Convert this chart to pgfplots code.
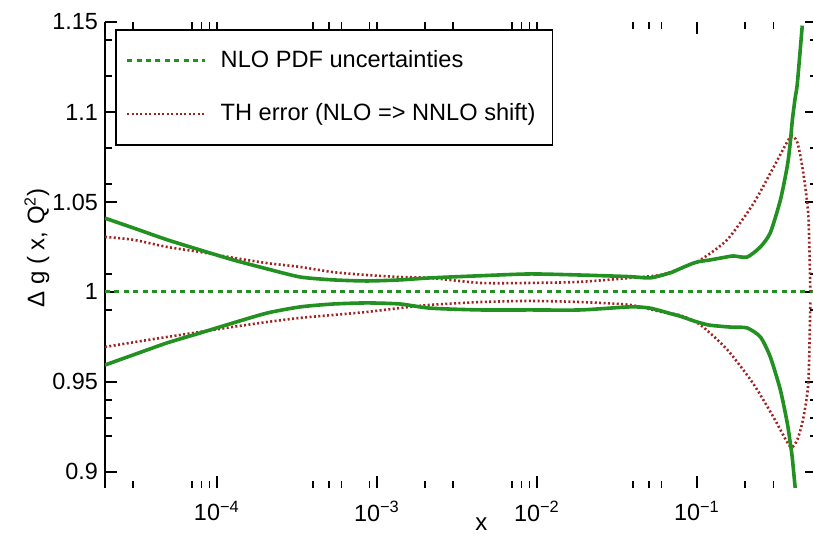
\documentclass[border=0pt]{standalone}
\usepackage{fontspec}
\setmainfont{Liberation Sans}
\usepackage{pgfplots}
\pgfplotsset{compat=1.18}
\definecolor{pdfgreen}{RGB}{34,145,34}
\definecolor{thred}{RGB}{160,35,35}

\pgfplotstableread{
x        up      lo
2.0e-5   1.0410  0.9594
3.0e-5   1.0356  0.9650
4.89e-5  1.0290  0.9717
7.87e-5  1.0233  0.9772
1.265e-4 1.0178  0.9828
2.065e-4 1.0128  0.9883
3.32e-4  1.0083  0.9917
5.33e-4  1.0067  0.9933
8.69e-4  1.0061  0.9939
1.40e-3  1.0067  0.9933
2.15e-3  1.0078  0.9910
4.43e-3  1.0090  0.9900
9.08e-3  1.0100  0.9900
1.866e-2 1.0094  0.9900
3.83e-2  1.0085  0.9917
5.10e-2  1.0078  0.9910
6.81e-2  1.0106  0.9880
7.87e-2  1.0130  0.9865
9.48e-2  1.0160  0.9840
0.105    1.0170  0.9828
0.121    1.0178  0.9815
0.1545   1.0195  0.9806
0.169    1.0200  0.9804
0.206    1.0194  0.9800
0.249    1.0250  0.9750
0.287    1.0328  0.9640
0.332    1.0510  0.9456
0.367    1.0700  0.9270
0.383    1.0830  0.9160
0.394    1.0950  0.9080
0.411    1.1080  0.8911
0.424    1.1160  0.8800
0.455    1.1480  0.8600
}\greentab

\pgfplotstableread{
x        up      lo
2.0e-5   1.0306  0.9694
3.0e-5   1.0290  0.9720
4.89e-5  1.0250  0.9750
7.87e-5  1.0222  0.9778
1.265e-4 1.0190  0.9806
2.065e-4 1.0160  0.9833
3.32e-4  1.0139  0.9856
5.33e-4  1.0110  0.9872
8.69e-4  1.0094  0.9889
1.40e-3  1.0083  0.9911
2.15e-3  1.0078  0.9928
4.43e-3  1.0050  0.9944
9.08e-3  1.0050  0.9950
1.866e-2 1.0056  0.9944
3.83e-2  1.0078  0.9928
5.90e-2  1.0094  0.9890
7.87e-2  1.0130  0.9870
0.105    1.0178  0.9817
0.1545   1.0290  0.9680
0.225    1.0490  0.9490
0.300    1.0690  0.9306
0.383    1.0860  0.9140
0.424    1.0830  0.9180
0.462    1.0660  0.9300
0.497    1.0420  0.9500
0.511    1.0000  0.9950
}\redtab

\begin{document}
\begin{tikzpicture}
\begin{axis}[
  name=ax,
  scale only axis, width=355.9pt, height=233pt,
  xmode=log, xmin=2e-5, xmax=0.56, ymin=0.8911, ymax=1.15,
  clip=true,
  separate axis lines,
  x axis line style={draw=none},
  y axis line style={line width=0.9pt},
  /pgf/number format/assume math mode=true,
  xtick={1e-4,1e-3,1e-2,1e-1},
  xticklabels={10\textsuperscript{−4},10\textsuperscript{−3},10\textsuperscript{−2},10\textsuperscript{−1}},
  minor xtick={3e-5,7e-5,8e-5,9e-5,4e-4,5e-4,6e-4,9e-4,2e-3,3e-3,7e-3,8e-3,9e-3,4e-2,5e-2,6e-2,0.2,0.3},
  ytick={0.9,0.95,1,1.05,1.1,1.15},
  yticklabels={0.9,0.95,1,1.05,1.1,1.15},
  minor ytick={0.92,0.93,0.94,0.99,1.01,1.06,1.08,1.12,1.14},
  tick align=inside,
  major tick length=6pt, minor tick length=3.5pt,
  tick style={black, line width=0.8pt},
  xticklabel style={font=\fontsize{11.7}{13}\selectfont, yshift=-3pt},
  yticklabel style={font=\fontsize{11.7}{13}\selectfont},
  xlabel={x}, ylabel={Δ g ( x, Q\textsuperscript{2})},
  every axis x label/.style={at={(axis description cs:0.529,-0.0773)}, anchor=center, font=\fontsize{12}{14}\selectfont},
  every axis y label/.style={at={(axis description cs:-0.0955,0.515)}, rotate=90, anchor=center, font=\fontsize{12}{14}\selectfont},
  legend style={at={(axis description cs:0.014,0.985)}, anchor=north west, draw=black, line width=0.8pt, fill=white,
    inner xsep=5pt, inner ysep=8.5pt, row sep=12.5pt, font=\fontsize{11.8}{14}\selectfont},
  legend cell align=left,
  legend image code/.code={\draw[#1] (4.5pt,0pt) -- (43.5pt,0pt); \path (48.5pt,0pt);},
]
\addplot[pdfgreen, line width=1.5pt, dash pattern=on 2.5pt off 2.2pt] coordinates {(2e-5,1) (0.56,1)};
\addlegendentry{NLO PDF uncertainties}
\addplot[thred, line width=1.3pt, dash pattern=on 1pt off 1.2pt, smooth, tension=0.4] table[x=x,y=up] {\redtab};
\addlegendentry{\makebox[159pt][l]{TH error (NLO => NNLO shift)}}
\addplot[thred, line width=1.3pt, dash pattern=on 1pt off 1.2pt, smooth, tension=0.4, forget plot] table[x=x,y=lo] {\redtab};
\addplot[pdfgreen, line width=1.8pt, smooth, tension=0.4, forget plot] table[x=x,y=up] {\greentab};
\addplot[pdfgreen, line width=1.8pt, smooth, tension=0.4, forget plot] table[x=x,y=lo] {\greentab};
\end{axis}
\pgfresetboundingbox
\path[use as bounding box] ([xshift=-52.5pt,yshift=-23pt]ax.south west) rectangle ([xshift=-1.85pt,yshift=11pt]ax.north east);
\end{tikzpicture}
\end{document}
